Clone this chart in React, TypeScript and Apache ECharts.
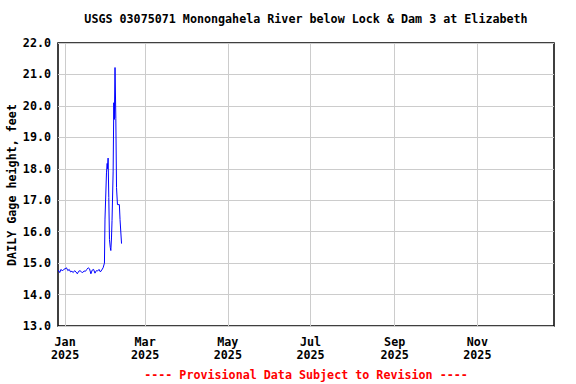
import React, { useEffect, useRef } from "react";
import * as echarts from "echarts";

const TITLE = "USGS 03075071 Monongahela River below Lock & Dam 3 at Elizabeth";
const Y_NAME = "DAILY Gage height, feet";
const FOOTER = "---- Provisional Data Subject to Revision ----";

// Baseline daily values starting 2024-12-27
const baselineStart = "2024-12-27";
const baselineValues = [
  14.78, 14.7, 14.8, 14.75, 14.8, 14.82, 14.85, 14.76, 14.8, 14.72, 14.74, 14.7,
  14.76, 14.72, 14.66, 14.74, 14.76, 14.72, 14.7, 14.75, 14.74, 14.8, 14.85, 14.82,
  14.66, 14.78, 14.8, 14.68, 14.76, 14.75, 14.8, 14.72, 14.78,
];

// Rise section: times (days after 2025-01-01 00:00 UTC) and gage heights
const riseDays = [
  28.0, 29.0, 29.4, 30.5, 31.0, 31.3, 31.7, 32.2, 32.7, 33.3, 33.7, 34.2, 34.6,
  35.4, 35.9, 36.3, 36.8, 37.4, 37.9, 38.6, 40.0, 40.5, 41.6,
];
const riseValues = [
  14.85, 15.0, 16.4, 17.87, 18.17, 18.0, 18.34, 17.09, 15.75, 15.5, 15.4, 15.8, 16.36,
  17.9, 20.1, 19.57, 21.22, 19.6, 17.4, 16.86, 16.86, 16.38, 15.62,
];

const tickDates = ["2025-01-01", "2025-03-01", "2025-05-01", "2025-07-01", "2025-09-01", "2025-11-01"];
const monthNames = ["Jan", "Feb", "Mar", "Apr", "May", "Jun", "Jul", "Aug", "Sep", "Oct", "Nov", "Dec"];

const X_MIN = "2024-12-26T18:00:00Z";
const X_MAX = "2025-12-27T12:00:00Z";
const Y_MIN = 13;
const Y_MAX = 22;

const DAY = 86400000;
const FONT = "'DejaVu Sans Mono', monospace";
const FS = 11.7;

export default function App() {
  const ref = useRef<HTMLDivElement>(null);
  useEffect(() => {
    if (!ref.current) return;
    const chart = echarts.init(ref.current, null, { renderer: "svg" });
    const t0 = Date.parse(baselineStart + "T00:00:00Z");
    const jan1 = Date.parse("2025-01-01T00:00:00Z");
    const data: [number, number][] = [];
    baselineValues.forEach((v, i) => data.push([t0 + i * DAY, v]));
    riseDays.forEach((d, i) => data.push([jan1 + d * DAY, riseValues[i]]));
    const ticks = tickDates.map((d) => Date.parse(d + "T00:00:00Z"));

    chart.setOption({
      animation: false,
      backgroundColor: "#fff",
      grid: {
        left: 58,
        right: 22,
        top: 43,
        bottom: 58,
        show: true,
        borderColor: "#000",
        borderWidth: 1.5,
        backgroundColor: "transparent",
      },
      xAxis: {
        type: "value",
        min: Date.parse(X_MIN),
        max: Date.parse(X_MAX),
        axisLine: { show: false },
        axisTick: { show: false, customValues: ticks },
        splitLine: { show: true, lineStyle: { color: "#cccccc", width: 1 } },
        axisLabel: {
          customValues: ticks,
          margin: 9,
          color: "#000",
          fontFamily: FONT,
          fontWeight: "bold",
          fontSize: FS,
          lineHeight: 13,
          formatter: (v: number) => {
            const d = new Date(v);
            return monthNames[d.getUTCMonth()] + "\n" + d.getUTCFullYear();
          },
        },
      },
      yAxis: {
        type: "value",
        min: Y_MIN,
        max: Y_MAX,
        interval: 1,
        axisLine: { show: false },
        axisTick: { show: false },
        splitLine: { show: true, lineStyle: { color: "#cccccc", width: 1 } },
        axisLabel: {
          margin: 7,
          color: "#000",
          fontFamily: FONT,
          fontWeight: "bold",
          fontSize: FS,
          formatter: (v: number) => v.toFixed(1),
        },
      },
      series: [
        {
          type: "line",
          data,
          showSymbol: false,
          symbol: "none",
          lineStyle: { color: "#0000ff", width: 1 },
          z: 5,
        },
      ],
      graphic: [
        {
          type: "text",
          x: 306,
          y: 19,
          style: {
            text: TITLE,
            fill: "#000",
            font: `bold ${FS}px ${FONT}`,
            textAlign: "center",
            textVerticalAlign: "middle",
          },
        },
        {
          type: "text",
          x: 12,
          y: 185,
          rotation: Math.PI / 2,
          style: {
            text: Y_NAME,
            fill: "#000",
            font: `bold ${FS}px ${FONT}`,
            textAlign: "center",
            textVerticalAlign: "middle",
          },
        },
        {
          type: "text",
          x: 306,
          y: 375,
          style: {
            text: FOOTER,
            fill: "#ff0000",
            font: `bold ${FS}px ${FONT}`,
            textAlign: "center",
            textVerticalAlign: "middle",
          },
        },
      ],
    });
    return () => chart.dispose();
  }, []);
  return <div ref={ref} style={{ width: 576, height: 384, position: "absolute", left: 0, top: 0 }} />;
}
